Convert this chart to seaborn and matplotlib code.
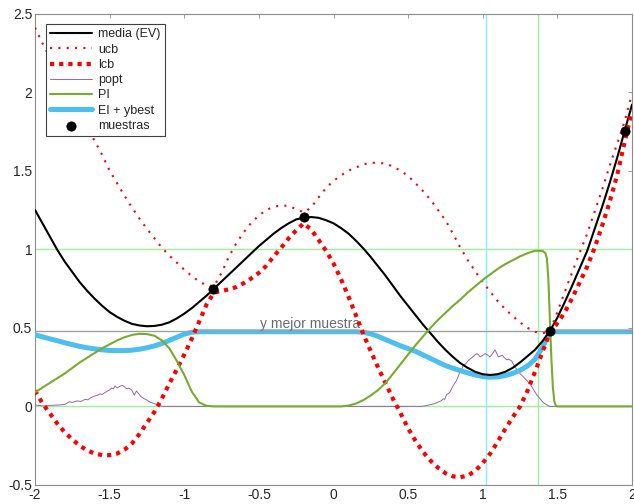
import numpy as np
import pandas as pd
import seaborn as sns
import matplotlib.pyplot as plt

# ---------------- data ----------------
# common x grid, step 0.05 from -2 to 2
x_grid = np.round(np.arange(-40, 41) * 0.05, 2)

media = [1.25, 1.165, 1.08, 0.995, 0.92, 0.855, 0.79, 0.735, 0.685, 0.64,
         0.60, 0.57, 0.545, 0.525, 0.515, 0.51, 0.512, 0.52, 0.535, 0.56,
         0.59, 0.625, 0.665, 0.705, 0.75, 0.795, 0.84, 0.885, 0.93, 0.975,
         1.02, 1.06, 1.10, 1.135, 1.165, 1.19, 1.20, 1.205, 1.20, 1.185,
         1.165, 1.135, 1.10, 1.055, 1.005, 0.95, 0.89, 0.83, 0.765, 0.70,
         0.64, 0.58, 0.52, 0.465, 0.41, 0.36, 0.315, 0.275, 0.245, 0.22,
         0.205, 0.20, 0.205, 0.22, 0.245, 0.28, 0.32, 0.36, 0.415, 0.48,
         0.565, 0.665, 0.77, 0.88, 0.99, 1.13, 1.27, 1.42, 1.58, 1.75, 1.92]

ucb = [2.41, 2.31, 2.22, 2.12, 2.03, 1.94, 1.86, 1.77, 1.69, 1.60,
       1.50, 1.42, 1.34, 1.265, 1.195, 1.13, 1.07, 1.01, 0.96, 0.915,
       0.87, 0.83, 0.795, 0.77, 0.765, 0.85, 0.955, 1.04, 1.11, 1.17,
       1.215, 1.25, 1.27, 1.28, 1.275, 1.255, 1.235, 1.265, 1.33, 1.39,
       1.435, 1.47, 1.50, 1.52, 1.54, 1.55, 1.55, 1.545, 1.525, 1.50,
       1.465, 1.42, 1.37, 1.315, 1.25, 1.185, 1.10, 1.01, 0.93, 0.86,
       0.79, 0.73, 0.67, 0.62, 0.575, 0.535, 0.50, 0.475, 0.465, 0.48,
       0.60, 0.73, 0.855, 0.98, 1.10, 1.24, 1.38, 1.53, 1.67, 1.81, 1.99]

lcb = [0.10, 0.02, -0.045, -0.11, -0.165, -0.21, -0.25, -0.28, -0.30, -0.31,
       -0.31, -0.30, -0.275, -0.235, -0.175, -0.105, -0.035, 0.05, 0.145, 0.235,
       0.33, 0.43, 0.54, 0.65, 0.725, 0.735, 0.745, 0.76, 0.785, 0.815,
       0.85, 0.895, 0.955, 1.01, 1.07, 1.12, 1.165, 1.125, 1.06, 0.99,
       0.91, 0.81, 0.70, 0.58, 0.46, 0.35, 0.245, 0.145, 0.045, -0.045,
       -0.14, -0.22, -0.29, -0.345, -0.39, -0.425, -0.445, -0.45, -0.44, -0.41,
       -0.36, -0.30, -0.225, -0.145, -0.07, 0.0, 0.10, 0.22, 0.345, 0.47,
       0.53, 0.60, 0.69, 0.79, 0.89, 1.01, 1.15, 1.30, 1.47, 1.68, 1.88]

pi_vals = [0.09, 0.12, 0.15, 0.18, 0.21, 0.245, 0.28, 0.31, 0.34, 0.37,
           0.395, 0.42, 0.44, 0.455, 0.462, 0.46, 0.45, 0.42, 0.37, 0.29,
           0.20, 0.095, 0.025, 0.004, 0.0,
           0, 0, 0, 0, 0, 0, 0, 0, 0, 0, 0, 0, 0, 0, 0, 0, 0,
           0.005, 0.018, 0.04, 0.07, 0.105, 0.15, 0.21, 0.27, 0.33, 0.39,
           0.445, 0.50, 0.55, 0.595, 0.64, 0.68, 0.725, 0.765, 0.805, 0.84,
           0.875, 0.905, 0.93, 0.955, 0.975, 0.99, 0.99, 0.55, 0.0,
           0, 0, 0, 0, 0, 0, 0, 0, 0, 0]
# extra PI points for the sharp drop near x = 1.45
pi_fine_x = [1.42, 1.43, 1.44, 1.46, 1.47, 1.48, 1.49]
pi_fine_y = [0.975, 0.94, 0.80, 0.30, 0.12, 0.03, 0.005]

ei_ybest = [0.455, 0.443, 0.43, 0.418, 0.405, 0.393, 0.382, 0.373, 0.366, 0.36,
            0.356, 0.355, 0.355, 0.358, 0.364, 0.373, 0.385, 0.40, 0.42, 0.44,
            0.46, 0.472,
            0.475, 0.475, 0.475, 0.475, 0.475, 0.475, 0.475, 0.475, 0.475, 0.475, 0.475,
            0.475, 0.475, 0.475, 0.475, 0.475, 0.475, 0.475, 0.475, 0.475, 0.475, 0.475,
            0.472, 0.462, 0.445, 0.425, 0.405, 0.385, 0.368, 0.35, 0.328, 0.305,
            0.282, 0.26, 0.243, 0.228, 0.213, 0.20, 0.19, 0.186, 0.188, 0.196,
            0.21, 0.23, 0.258, 0.30, 0.375, 0.475,
            0.475, 0.475, 0.475, 0.475, 0.475, 0.475, 0.475, 0.475, 0.475, 0.475, 0.475]

popt_x = [-2.00, -1.96, -1.93, -1.90, -1.87, -1.83, -1.80, -1.78, -1.77, -1.75,
          -1.72, -1.69, -1.665, -1.645, -1.63, -1.60, -1.58, -1.565, -1.55, -1.52,
          -1.50, -1.486, -1.475, -1.464, -1.45, -1.43, -1.415, -1.40, -1.386, -1.37,
          -1.352, -1.335, -1.32, -1.305, -1.29, -1.27, -1.25, -1.23, -1.207, -1.18,
          -1.16, -1.14, 0.59, 0.62, 0.658, 0.68, 0.702, 0.72, 0.736, 0.745,
          0.758, 0.77, 0.78, 0.795, 0.81, 0.825, 0.835, 0.847, 0.86, 0.87,
          0.885, 0.904, 0.92, 0.937, 0.96, 0.97, 0.982, 1.00, 1.015, 1.03,
          1.049, 1.065, 1.082, 1.093, 1.104, 1.118, 1.131, 1.145, 1.16, 1.175,
          1.194, 1.205, 1.216, 1.23, 1.25, 1.265, 1.283, 1.30, 1.317, 1.335,
          1.35, 1.365, 1.384, 1.40, 1.417, 1.435, 1.45, 2.00]
popt_y = [0.010, 0.004, 0.003, 0.006, 0.008, 0.010, 0.013, 0.024, 0.030, 0.025,
          0.035, 0.032, 0.045, 0.042, 0.053, 0.066, 0.072, 0.080, 0.076, 0.095,
          0.105, 0.117, 0.112, 0.130, 0.118, 0.128, 0.134, 0.125, 0.113, 0.116,
          0.104, 0.072, 0.098, 0.080, 0.062, 0.050, 0.040, 0.028, 0.020, 0.010,
          0.003, 0.0, 0.0, 0.005, 0.013, 0.018, 0.028, 0.035, 0.049, 0.045,
          0.076, 0.082, 0.091, 0.120, 0.144, 0.166, 0.190, 0.219, 0.240, 0.261,
          0.270, 0.293, 0.305, 0.319, 0.336, 0.330, 0.315, 0.325, 0.336, 0.328,
          0.315, 0.335, 0.360, 0.340, 0.315, 0.320, 0.325, 0.310, 0.297, 0.300,
          0.289, 0.270, 0.250, 0.235, 0.208, 0.195, 0.176, 0.160, 0.144, 0.115,
          0.091, 0.070, 0.049, 0.030, 0.017, 0.007, 0.0, 0.0]

muestras_x = [-0.805, -0.20, 1.45, 1.953]
muestras_y = [0.75, 1.205, 0.48, 1.754]

y_best = 0.482
ei_max_x = 1.025
pi_max_x = 1.37

xticks = [-2, -1.5, -1, -0.5, 0, 0.5, 1, 1.5, 2]
xtick_labels = ['-2', '-1.5', '-1', '-0.5', '0', '0.5', '1', '1.5', '2']
yticks = [-0.5, 0, 0.5, 1, 1.5, 2, 2.5]
ytick_labels = ['-0.5', '0', '0.5', '1', '1.5', '2', '2.5']

# ---------------- style ----------------
sns.set_theme(style="white")
plt.rcParams['font.family'] = ['Liberation Sans', 'DejaVu Sans']
plt.rcParams['axes.unicode_minus'] = False

df = pd.DataFrame({'x': x_grid, 'media': media, 'ucb': ucb, 'lcb': lcb,
                   'ei': ei_ybest})
df_pi = pd.DataFrame({'x': np.concatenate([x_grid, pi_fine_x]),
                      'pi': np.concatenate([pi_vals, pi_fine_y])}).sort_values('x')

fig = plt.figure(figsize=(6.34, 5.04), dpi=100)
ax = fig.add_axes([35 / 634, 19 / 504, 597 / 634, 471.5 / 504])

sns.lineplot(data=df, x='x', y='media', ax=ax, color='black', lw=1.5,
             label='media (EV)', zorder=4)
sns.lineplot(data=df, x='x', y='ucb', ax=ax, color='red', lw=1.5,
             linestyle=(0, (1, 3)), label='ucb', zorder=4)
sns.lineplot(data=df, x='x', y='lcb', ax=ax, color='red', lw=3,
             linestyle=(0, (1, 1.2)), label='lcb', zorder=4)
sns.lineplot(x=popt_x, y=popt_y, ax=ax, color='#9a62ae', lw=0.7,
             label='popt', zorder=3)
sns.lineplot(data=df_pi, x='x', y='pi', ax=ax, color='#77ac30', lw=1.5,
             label='PI', zorder=4)
sns.lineplot(data=df, x='x', y='ei', ax=ax, color='#4dbeee', lw=3.6,
             label='EI + ybest', zorder=3)
sns.scatterplot(x=muestras_x, y=muestras_y, ax=ax, color='black', s=45,
                edgecolor='black', linewidth=0.5, label='muestras', zorder=6)

# reference lines
ax.axhline(y_best, color='#a0a0a0', lw=1, zorder=3.5)
ax.axhline(0, color='#9ef09e', lw=1, zorder=2)
ax.axhline(1, color='#9ef09e', lw=1, zorder=2)
ax.axvline(ei_max_x, color='#7ff4ff', lw=1, zorder=2)
ax.axvline(pi_max_x, color='#9ef09e', lw=1, zorder=2)
ax.text(-0.494, 0.50, 'y mejor muestra', color='#6a6a6a', fontsize=10,
        va='baseline', ha='left')

ax.set_xlim(-2, 2)
ax.set_ylim(-0.5, 2.5)
ax.set_xticks(xticks)
ax.set_xticklabels(xtick_labels)
ax.set_yticks(yticks)
ax.set_yticklabels(ytick_labels)
ax.set_xlabel('')
ax.set_ylabel('')
ax.tick_params(direction='in', length=3, width=0.6, color='#8c8c8c',
               labelsize=10, labelcolor='#262626', pad=2,
               top=True, right=True)
for sp in ax.spines.values():
    sp.set_color('#8c8c8c')
    sp.set_linewidth(0.8)

leg = ax.legend(loc='upper left', bbox_to_anchor=(0.0184, 0.9777),
                borderaxespad=0, fontsize=9, frameon=True, fancybox=False,
                framealpha=1, edgecolor='#404040', handlelength=3.3,
                handletextpad=0.5, labelspacing=0.26, borderpad=0.35)
leg.get_frame().set_linewidth(0.8)

fig.savefig('out.png', dpi=100)
